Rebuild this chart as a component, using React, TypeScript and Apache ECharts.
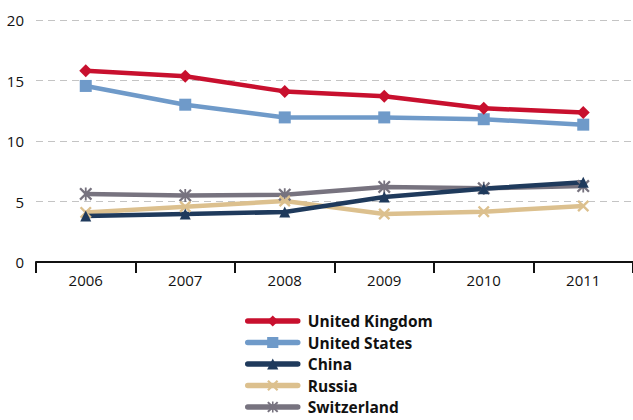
import React, { useEffect, useRef } from "react";
import * as echarts from "echarts";

const years = ["2006", "2007", "2008", "2009", "2010", "2011"];
const unitedKingdom = [15.8, 15.35, 14.1, 13.7, 12.7, 12.35];
const unitedStates = [14.55, 13.0, 11.95, 11.95, 11.8, 11.35];
const china = [3.8, 3.97, 4.13, 5.37, 6.06, 6.6];
const russia = [4.1, 4.57, 5.04, 3.97, 4.16, 4.63];
const switzerland = [5.62, 5.5, 5.56, 6.2, 6.09, 6.28];

const crossSymbol =
  "path://M0,2.8 L2.8,0 L10,7.2 L17.2,0 L20,2.8 L12.8,10 L20,17.2 L17.2,20 L10,12.8 L2.8,20 L0,17.2 L7.2,10 Z";
const starSymbol =
  "path://M0,2.5 L2.5,0 L10,7.5 L17.5,0 L20,2.5 L12.5,10 L20,17.5 L17.5,20 L10,12.5 L2.5,20 L0,17.5 L7.5,10 Z M8.6,0 L11.4,0 L11.4,20 L8.6,20 Z";

const FONT = "'Open Sans', 'Noto Sans', sans-serif";

export default function App() {
  const ref = useRef<HTMLDivElement>(null);

  useEffect(() => {
    document.body.style.margin = "0";
    if (!ref.current) return;
    const chart = echarts.init(ref.current, null, { renderer: "svg" });

    const mk = (name: string, data: number[], color: string, symbol: string, size: number) => ({
      name,
      type: "line",
      data,
      symbol,
      symbolSize: size,
      showSymbol: true,
      lineStyle: { color, width: 4.5 },
      itemStyle: { color },
    });

    chart.setOption({
      animation: false,
      textStyle: { fontFamily: FONT },
      grid: { left: 36, right: 0, top: 20, bottom: 158, containLabel: false },
      xAxis: {
        type: "category",
        data: years,
        boundaryGap: true,
        axisLine: { lineStyle: { color: "#111", width: 2 } },
        axisTick: { show: true, length: 11, lineStyle: { color: "#111", width: 2 } },
        axisLabel: { color: "#111", fontSize: 15, margin: 10, fontFamily: FONT },
      },
      yAxis: {
        type: "value",
        min: 0,
        max: 20,
        interval: 5,
        axisLine: { show: false },
        axisTick: { show: false },
        axisLabel: { color: "#111", fontSize: 15, margin: 12, fontFamily: FONT },
        splitLine: { lineStyle: { color: "#c4c4c4", width: 1, type: [7, 5] } },
      },
      legend: {
        orient: "vertical",
        left: 245,
        top: 313,
        padding: 0,
        height: 120,
        itemWidth: 50,
        itemHeight: 14,
        itemGap: 5.5,
        lineStyle: { width: 5.5, cap: "round" },
        textStyle: {
          fontSize: 15.5,
          lineHeight: 14,
          fontWeight: "bold",
          color: "#111",
          fontFamily: FONT,
          padding: [0, 0, 0, 5],
        },
        data: ["United Kingdom", "United States", "China", "Russia", "Switzerland"],
      },
      series: [
        mk("Switzerland", switzerland, "#77737f", starSymbol, 13),
        mk("Russia", russia, "#dcc08e", crossSymbol, 12),
        mk("China", china, "#1f3a5c", "triangle", 11),
        mk("United States", unitedStates, "#6f9ac9", "rect", 12),
        mk("United Kingdom", unitedKingdom, "#c8102e", "diamond", 13),
      ],
    });

    return () => chart.dispose();
  }, []);

  return <div ref={ref} style={{ width: 633, height: 420 }} />;
}
